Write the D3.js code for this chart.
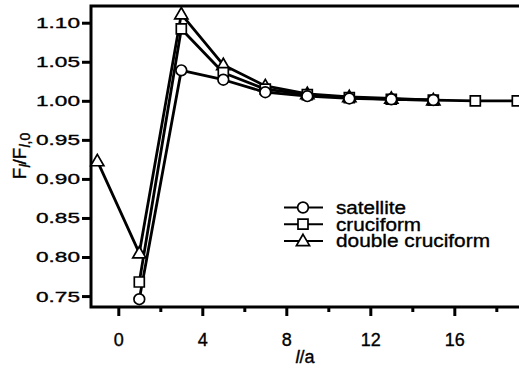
<!DOCTYPE html>
<html><head><meta charset="utf-8">
<script src="https://cdn.jsdelivr.net/npm/d3@7"></script>
<style>body{margin:0;background:#fff}svg{display:block}text{font-family:"Liberation Sans",Arial,Helvetica,sans-serif;fill:#000;stroke:#000;stroke-width:0.35px}</style>
</head><body><svg id="c" width="519" height="370"></svg>
<script>
const seriesNames = ["satellite", "cruciform", "double cruciform"];
const satelliteX = [1, 3, 5, 7, 9, 11, 13, 15];
const satelliteY = [0.746, 1.039, 1.027, 1.011, 1.006, 1.003, 1.002, 1.001];
const cruciformX = [1, 3, 5, 7, 9, 11, 13, 15, 17, 19];
const cruciformY = [0.768, 1.092, 1.036, 1.015, 1.008, 1.004, 1.002, 1.001, 1.000, 1.000];
const doubleX = [-1, 1, 3, 5, 7, 9, 11, 13, 15];
const doubleY = [0.923, 0.805, 1.111, 1.046, 1.019, 1.009, 1.005, 1.003, 1.001];
const xTicks = [0, 4, 8, 12, 16];
const xMinorTicks = [2, 6, 10, 14, 18];
const yTicks = [0.75, 0.80, 0.85, 0.90, 0.95, 1.00, 1.05, 1.10];

const svg = d3.select("#c");
const L = 91, R = 519, T = 6, B = 307;
const x = d3.scaleLinear().domain([-1.3, 19.08]).range([L, R]);
const y = d3.scaleLinear().domain([0.736, 1.1214]).range([B, T]);

// axes
const yAxis = svg.append("g").attr("transform", `translate(${L},0)`)
  .call(d3.axisLeft(y).tickValues(yTicks).tickFormat(d3.format(".2f")).tickSize(9).tickPadding(2));
yAxis.select(".domain").remove();
yAxis.selectAll("line").attr("stroke", "#000").attr("stroke-width", 3);
yAxis.selectAll("text").attr("font-size", 15.5).attr("fill", "#000")
  .attr("textLength", 44).attr("lengthAdjust", "spacingAndGlyphs");

const xAxis = svg.append("g").attr("transform", `translate(0,${B})`)
  .call(d3.axisBottom(x).tickValues(xTicks).tickSize(9).tickPadding(17));
xAxis.select(".domain").remove();
xAxis.selectAll("line").attr("stroke", "#000").attr("stroke-width", 3);
xAxis.selectAll("text").attr("font-size", 18).attr("fill", "#000");

const xMinor = svg.append("g").attr("transform", `translate(0,${B})`)
  .call(d3.axisBottom(x).tickValues(xMinorTicks).tickSize(5).tickFormat(""));
xMinor.select(".domain").remove();
xMinor.selectAll("line").attr("stroke", "#000").attr("stroke-width", 3);

// frame
svg.append("path").attr("d", `M${R},${T}H${L}V${B}H${R}`)
  .attr("fill", "none").attr("stroke", "#000").attr("stroke-width", 3);

// series
const series = [
  {name: seriesNames[0], xs: satelliteX, ys: satelliteY, sym: d3.symbolCircle, size: 90},
  {name: seriesNames[1], xs: cruciformX, ys: cruciformY, sym: d3.symbolSquare, size: 100},
  {name: seriesNames[2], xs: doubleX, ys: doubleY, sym: d3.symbolTriangle, size: 75}
];
const line = d3.line().x(d => x(d[0])).y(d => y(d[1]));
const plot = svg.append("g");
series.slice().reverse().forEach(s => {
  const pts = s.xs.map((v, i) => [v, s.ys[i]]);
  plot.append("path").datum(pts).attr("d", line).attr("fill", "none")
    .attr("stroke", "#000").attr("stroke-width", 2.8).attr("stroke-linejoin", "round");
});
series.slice().reverse().forEach(s => {
  const pts = s.xs.map((v, i) => [v, s.ys[i]]);
  plot.selectAll(null).data(pts).enter().append("path")
    .attr("d", d3.symbol().type(s.sym).size(s.size))
    .attr("transform", d => `translate(${x(d[0])},${y(d[1]) + (s.sym === d3.symbolTriangle ? 1 : 0)})`)
    .attr("fill", "#fff").attr("stroke", "#000").attr("stroke-width", 1.7);
});

// legend
const legW = [70, 85, 154];
series.forEach((s, i) => {
  const ly = 207.5 + i * 16.7;
  svg.append("line").attr("x1", 284).attr("x2", 323).attr("y1", ly).attr("y2", ly)
    .attr("stroke", "#000").attr("stroke-width", 2);
  svg.append("path").attr("d", d3.symbol().type(s.sym).size(s.size)())
    .attr("transform", `translate(303,${ly + (s.sym === d3.symbolTriangle ? 1 : 0)})`)
    .attr("fill", "#fff").attr("stroke", "#000").attr("stroke-width", 1.7);
  svg.append("text").attr("x", 336).attr("y", ly + 6.5).attr("font-size", 17.5)
    .attr("textLength", legW[i]).attr("lengthAdjust", "spacingAndGlyphs").text(s.name);
});

// axis titles
const xt = svg.append("text").attr("x", 305).attr("y", 363).attr("text-anchor", "middle").attr("font-size", 18);
xt.append("tspan").attr("font-style", "italic").text("l");
xt.append("tspan").text("/a");

const yt = svg.append("text").attr("transform", "translate(26,156) rotate(-90)")
  .attr("text-anchor", "middle").attr("font-size", 19);
yt.append("tspan").text("F");
yt.append("tspan").attr("font-style", "italic").attr("font-size", 14).attr("dy", 4).text("l");
yt.append("tspan").attr("dy", -4).text("/F");
yt.append("tspan").attr("font-size", 14).attr("dy", 4).attr("font-style", "italic").text("l");
yt.append("tspan").attr("font-size", 14).text(",0");
</script></body></html>
